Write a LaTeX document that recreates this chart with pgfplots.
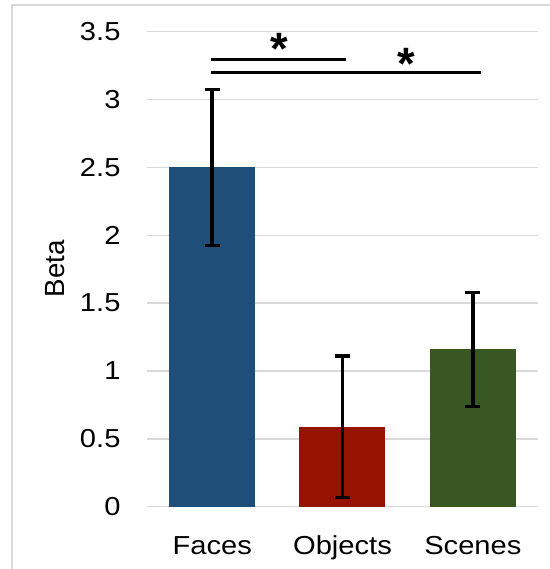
\documentclass[border=0pt]{standalone}
\usepackage{fontspec}
\setmainfont{Liberation Sans}
\newfontfamily\wide{Liberation Sans}[FakeStretch=1.12]
\usepackage{pgfplots}
\pgfplotsset{compat=1.18}
\definecolor{cblue}{HTML}{1F4E79}
\definecolor{cred}{HTML}{961300}
\definecolor{cgreen}{HTML}{385723}
\definecolor{cgrid}{HTML}{D9D9D9}
\begin{document}
\begin{tikzpicture}[x=1pt,y=1pt]
\useasboundingbox (0,0) rectangle (412.5,426.75);
\draw[cgrid, line width=1.5pt] (9,-5) -- (9,422.8) -- (420,422.8);
\node[rotate=90, anchor=base, inner sep=0pt, font=\fontsize{20.8}{20.8}\selectfont] at (48.2,225.2) {Beta};
\begin{axis}[
  at={(110.25pt,46.7pt)}, anchor=south west,
  scale only axis, width=293.25pt, height=356.25pt,
  xmin=-0.5, xmax=2.5, ymin=0, ymax=3.5,
  axis line style={draw=none}, tick style={draw=none},
  ymajorgrids, grid style={color=cgrid, line width=1.1pt},
  xtick={0,1,2}, xticklabels={Faces,Objects,Scenes},
  ytick={0,0.5,1,1.5,2,2.5,3,3.5},
  /pgf/number format/assume math mode=true,
  yticklabel style={font=\wide\fontsize{19.5}{19.5}\selectfont, anchor=east, inner sep=0pt, xshift=-19.7pt},
  xticklabel style={font=\wide\fontsize{19.5}{19.5}\selectfont, anchor=base, inner sep=0pt, yshift=-35.5pt},
  clip=false,
]
\addplot[ybar, bar width=64.5pt, fill=cblue, draw=none,
  error bars/.cd, y dir=both, y explicit,
  error bar style={line width=2.7pt, black},
  error mark options={rotate=90, mark size=5.6pt, line width=2.4pt, black}]
  coordinates {(0,2.5) +- (0,0.5735)};
\addplot[ybar, bar width=64.5pt, fill=cred, draw=none,
  error bars/.cd, y dir=both, y explicit,
  error bar style={line width=2.7pt, black},
  error mark options={rotate=90, mark size=5.6pt, line width=2.4pt, black}]
  coordinates {(1,0.585) += (0,0.526) -= (0,0.516)};
\addplot[ybar, bar width=64.5pt, fill=cgreen, draw=none,
  error bars/.cd, y dir=both, y explicit,
  error bar style={line width=2.7pt, black},
  error mark options={rotate=90, mark size=5.6pt, line width=2.4pt, black}]
  coordinates {(2,1.16) += (0,0.42) -= (0,0.423)};
\addplot[black, line width=2.25pt, no marks] coordinates {(-0.011,3.297) (1.025,3.297)};
\addplot[black, line width=2.25pt, no marks] coordinates {(-0.011,3.203) (2.06,3.203)};
\node[font=\bfseries\fontsize{34}{34}\selectfont, inner sep=0pt, yshift=-5.6pt] at (axis cs:0.513,3.432) {*};
\node[font=\bfseries\fontsize{34}{34}\selectfont, inner sep=0pt, yshift=-5.6pt] at (axis cs:1.491,3.316) {*};
\end{axis}
\end{tikzpicture}
\end{document}
